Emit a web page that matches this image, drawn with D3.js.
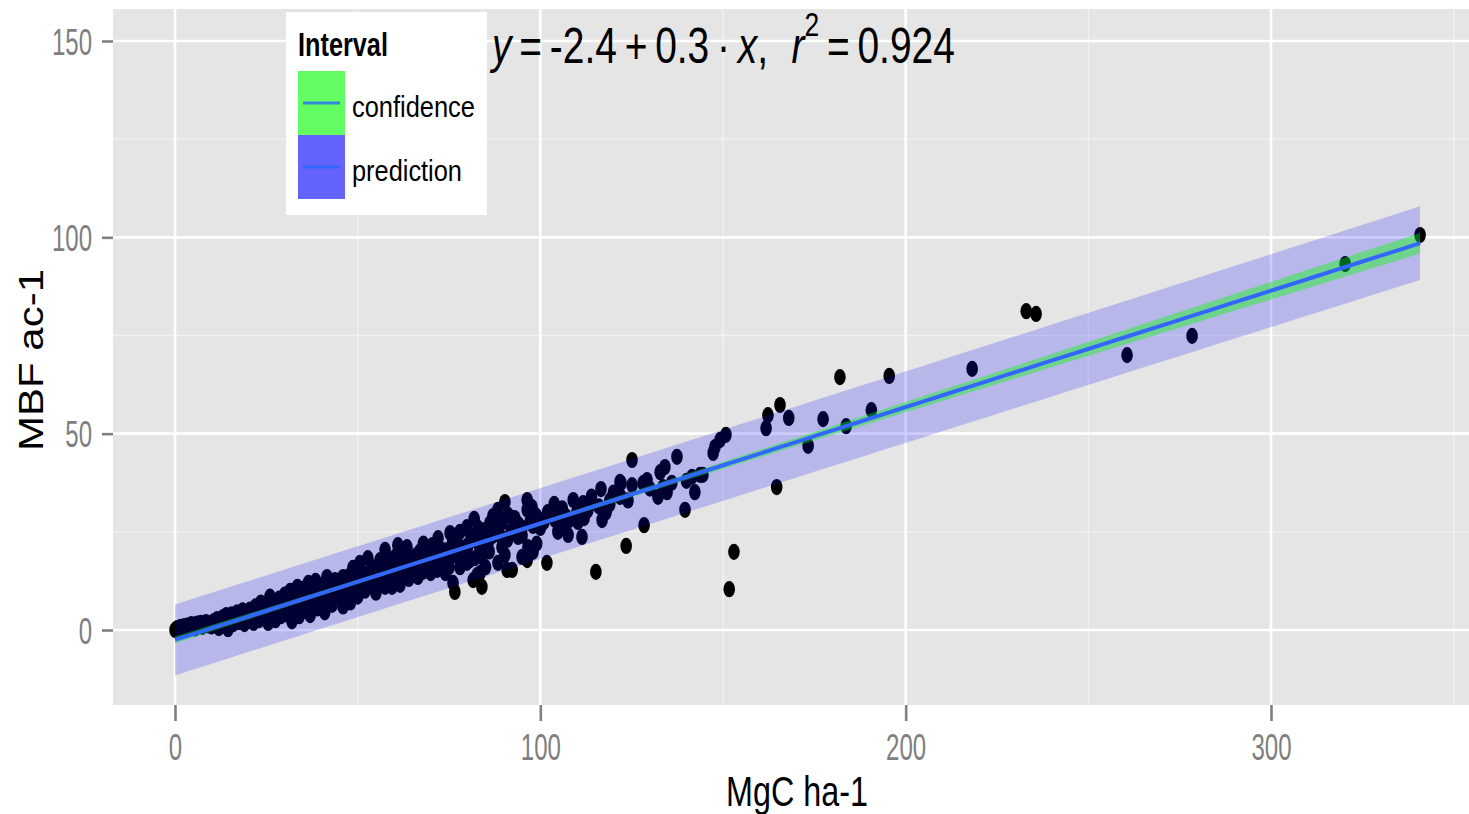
<!DOCTYPE html>
<html>
<head>
<meta charset="utf-8">
<script src="https://cdn.jsdelivr.net/npm/d3@7"></script>
<style>
  html, body { margin: 0; padding: 0; background: #ffffff; }
  svg { display: block; font-family: "Liberation Sans", Arial, Helvetica, sans-serif; }
</style>
</head>
<body>
<div id="chart"></div>
<script>
/** data: MgC ha-1 (x) and MBF ac-1 (y) */
var mgc = [
  0, 0.3, 0.6, 1, 1.5, 2, 2.5, 3, 3.5, 4, 4.5, 5, 5.5, 6, 6.5, 7, 7.5, 8, 8.5, 9, 9.5, 10,
  10.5, 11, 11.5, 12, 12.5, 13, 13.5, 14, 14.5, 15, 15.5, 16, 16.5, 17, 17.5, 18, 18.5, 19, 19.5, 20,
  20.5, 21, 21.5, 22, 22.5, 23, 23.5, 24, 24.5, 25, 25.5, 26, 26.5, 27, 27.5, 28, 28.5, 29, 29.5, 30,
  30.5, 31, 31.5, 32, 32.5, 33, 33.5, 34, 34.5, 35, 35.5, 36, 36.5, 37, 37.5, 38, 38.5, 39, 39.5, 40, 40.5, 41, 41.5, 42,
  43.8, 41.6, 46, 47.9, 48.7, 51.5, 50.6, 52.8, 53.9, 49.3, 47.1, 45.2, 43.3, 41.6, 50.6, 45.7, 43, 48, 50, 52, 54, 46, 44, 47, 49, 53, 55, 55, 51,
  57.5, 58, 58.9, 56.1, 60.2, 59.4, 61, 63.5, 61.6, 64.3, 62.4, 60.2, 63.8, 62.1, 61.6, 57.5, 66.5, 67.9, 71.7, 73.4, 67.1, 69, 71.2, 73.1, 70.4, 72, 56, 58, 65, 66, 68, 69, 70, 74, 75, 64,
  81.9, 79.9, 78, 77.2, 75.3, 74.7, 77.5, 78.8, 79.9, 82.1, 82.7, 76.1, 76.6, 81.6, 83.5, 84, 82.9, 80.8, 86.2, 84.9, 90.3, 88.4, 91.2, 92.5, 89.8, 88.1, 93.9, 96.6, 98, 95, 96.4, 89.5, 90.3, 88.4, 90.9, 92.3, 96.4, 97.7, 98.6, 97.2, 96.4, 85, 86, 87, 84, 93, 94, 95, 91, 87, 85, 78, 80, 76, 83,
  103.8, 105.4, 105.9, 104.8, 107.6, 101.8, 109, 111.7, 110.9, 110.3, 111.4, 116.6, 121.8, 121.8, 117.7, 116.9, 115.2, 123.5, 125.1, 122.1, 125.1, 100, 102, 99, 106, 108, 113, 114, 119, 120,
  128.4, 129.2, 128.1, 134.1, 132.8, 133.6, 134.7, 132.2, 137.4, 141.5, 143.7, 142.3, 139.6, 147.3, 147.8, 149.2, 150.8, 153, 151.7, 144.5,
  161.8, 162.3, 164.7, 165.6, 168, 173.3, 177.4, 182, 183.7, 190.6, 195.5, 218.2, 233, 235.7, 260.6, 278.4, 320.3, 340.8,
  45, 50, 53, 57, 60, 63, 66, 70, 72, 75, 78, 80, 83, 86, 89, 92, 95, 98, 101, 104, 107, 110, 113, 116, 119, 122,
  58, 62, 67, 71, 76, 81, 87, 93, 99, 105, 112, 118, 124, 130, 136, 140, 44, 48, 52, 56
];
var mbf = [
  0, 0.2, 0.5, 0.3, 0.8, 0.5, 1, 0.6, 1.2, 0.8, 1.5, 1, 0.4, 1.6, 1, 1.8, 0.8, 1.4, 2, 1.2, 1.7, 0.9,
  2.2, 1.4, 2.8, 0.5, 2, 3.2, 1.2, 3.8, 0.2, 2.5, 4, 1.5, 3, 4.5, 2, 3.5, 5, 1.5, 4, 2.8,
  5.2, 3.5, 1.8, 6, 4.5, 2.5, 7, 5, 3, 6.5, 1.8, 8.5, 4.5, 7, 2.5, 5.5, 8, 3.5, 6.5, 9,
  4, 7.5, 10, 2.2, 5.5, 9, 11, 3.5, 7, 10.5, 5, 8.5, 12, 3.8, 6.5, 10, 12.5, 5.5, 8.5, 11.5, 7, 4.5, 12.8, 9.5,
  12.7, 13.5, 13.5, 14, 15.8, 14.5, 17.1, 18.3, 16, 12.7, 11.5, 10.2, 8.4, 7.1, 12, 8.1, 6.4, 7, 8.5, 10, 11, 6, 9.5, 9, 10.5, 13, 14.5, 9.5, 11,
  20.4, 17.8, 15.8, 17.8, 12.2, 11, 21.6, 21.1, 20.4, 18.6, 17.3, 18.6, 15.3, 14.8, 11.5, 11, 13.5, 14.8, 15.3, 17.1, 17.8, 20.4, 18.6, 20.4, 21.6, 23.4, 13, 14, 16.5, 19, 22, 16, 14.5, 14.5, 16, 13,
  28.3, 26.2, 25, 22.4, 24.7, 20.4, 18.6, 20.4, 17.1, 18.3, 14, 12, 9.7, 12.7, 14.5, 11, 23.7, 17.8, 27.2, 25.5, 32.6, 30.6, 29.3, 28.5, 27.5, 26.2, 23.7, 21.1, 19.9, 18.6, 17.8, 21.1, 19.1, 17.1, 15.3, 15.3, 33.1, 31.3, 29.3, 27.5, 30.6, 22, 20, 24, 18.5, 25.5, 27, 24, 23, 29, 16, 16, 21, 19, 26,
  32.1, 29.3, 26.7, 25, 24.2, 17.1, 33.1, 32.3, 29.3, 27.5, 23.7, 35.9, 37.7, 33.9, 29.8, 28, 14.8, 21.4, 43.3, 37.4, 36.9, 26, 30, 22, 31, 28, 31, 34, 32, 35,
  26.7, 38.2, 37.4, 41.5, 40.2, 36.4, 35.1, 33.9, 44.1, 39, 39.5, 35.1, 30.6, 45.1, 46.6, 48.4, 49.7, 19.9, 10.4, 39.5,
  51.4, 54.7, 36.4, 57.3, 54, 46.9, 53.7, 64.4, 51.9, 56, 64.7, 66.5, 81.2, 80.5, 70, 74.9, 93.2, 100.6,
  11.5, 12.6, 14, 15, 15.5, 16.8, 17, 18.5, 19, 20, 21, 21.5, 22, 23, 24, 25, 26, 26.5, 27.5, 28, 29, 30, 30.5, 31.5, 33, 34,
  18, 19.5, 20, 17, 22.5, 24, 26, 28.5, 29, 27, 28.5, 30, 33, 36, 37.5, 38, 10.5, 12, 13, 14.5
];

var xMajor = [0, 100, 200, 300];
var xMinor = [50, 150, 250, 350];
var yMajor = [0, 50, 100, 150];
var yMinor = [25, 75, 125];
var legendLabels = ["confidence", "prediction"];

var W = 1469, H = 814;
var panel = { left: 113, right: 1469, top: 9, bottom: 705 };

var svg = d3.select("#chart").append("svg")
    .attr("width", W).attr("height", H);

var x = d3.scaleLinear().domain([0, 300]).range([175, 1271]);
var y = d3.scaleLinear().domain([0, 150]).range([630, 41]);

// squeeze a text horizontally so it spans targetW, anchored at ax
function squeeze(sel, ax, targetW) {
    var w = sel.node().getComputedTextLength();
    sel.attr("transform", "translate(" + ax + ",0) scale(" + (targetW / w) + ",1) translate(" + (-ax) + ",0)");
}

/** panel + grid */
svg.append("rect")
    .attr("x", panel.left).attr("y", panel.top)
    .attr("width", panel.right - panel.left).attr("height", panel.bottom - panel.top)
    .attr("fill", "#e5e5e5");

var grid = svg.append("g");
grid.selectAll(".xmin").data(xMinor).enter().append("line")
    .attr("x1", d => x(d)).attr("x2", d => x(d))
    .attr("y1", panel.top).attr("y2", panel.bottom)
    .attr("stroke", "#f2f2f2").attr("stroke-width", 1.3);
grid.selectAll(".ymin").data(yMinor).enter().append("line")
    .attr("y1", d => y(d)).attr("y2", d => y(d))
    .attr("x1", panel.left).attr("x2", panel.right)
    .attr("stroke", "#f2f2f2").attr("stroke-width", 1.3);
grid.selectAll(".xmaj").data(xMajor).enter().append("line")
    .attr("x1", d => x(d)).attr("x2", d => x(d))
    .attr("y1", panel.top).attr("y2", panel.bottom)
    .attr("stroke", "#ffffff").attr("stroke-width", 2.6);
grid.selectAll(".ymaj").data(yMajor).enter().append("line")
    .attr("y1", d => y(d)).attr("y2", d => y(d))
    .attr("x1", panel.left).attr("x2", panel.right)
    .attr("stroke", "#ffffff").attr("stroke-width", 2.6);

/** points */
var pts = mgc.map((d, i) => [d, mbf[i]]);
svg.append("g").selectAll("ellipse").data(pts).enter().append("ellipse")
    .attr("cx", d => x(d[0])).attr("cy", d => y(d[1]))
    .attr("rx", 5.8).attr("ry", 8.1)
    .attr("fill", "#000000");

/** linear fit with confidence and prediction intervals */
var n = pts.length;
var xbar = d3.mean(mgc), ybar = d3.mean(mbf);
var sxx = d3.sum(mgc, d => (d - xbar) * (d - xbar));
var sxy = d3.sum(pts, d => (d[0] - xbar) * (d[1] - ybar));
var b1 = sxy / sxx, b0 = ybar - b1 * xbar;
var sse = d3.sum(pts, d => Math.pow(d[1] - (b0 + b1 * d[0]), 2));
var s = Math.sqrt(sse / (n - 2));
var tq = 1.968;
var xs = d3.range(0, 61).map(i => d3.min(mgc) + (d3.max(mgc) - d3.min(mgc)) * i / 60);
var fit = xs.map(function (xv) {
    var yh = b0 + b1 * xv;
    var se = s * Math.sqrt(1 / n + (xv - xbar) * (xv - xbar) / sxx);
    var sp = s * Math.sqrt(1 + 1 / n + (xv - xbar) * (xv - xbar) / sxx);
    return { x: xv, y: yh, clo: yh - tq * se, chi: yh + tq * se, plo: yh - tq * sp, phi: yh + tq * sp };
});

var area = function (lo, hi) {
    return d3.area().x(d => x(d.x)).y0(d => y(d[lo])).y1(d => y(d[hi]));
};
svg.append("path").datum(fit)
    .attr("d", area("plo", "phi"))
    .attr("fill", "#0000ff").attr("fill-opacity", 0.2);
svg.append("path").datum(fit)
    .attr("d", area("clo", "chi"))
    .attr("fill", "#00ff00").attr("fill-opacity", 0.4);
svg.append("path").datum(fit)
    .attr("d", d3.line().x(d => x(d.x)).y(d => y(d.y)))
    .attr("fill", "none").attr("stroke", "#3366ff").attr("stroke-width", 4);

/** axes */
var tickScale = 0.65;
var gy = svg.append("g").attr("transform", "translate(" + panel.left + ",0)")
    .call(d3.axisLeft(y).tickValues(yMajor).tickSize(11).tickFormat(d3.format("d")));
gy.select(".domain").remove();
gy.selectAll(".tick line").attr("stroke", "#7f7f7f").attr("stroke-width", 2.6);
gy.selectAll(".tick text")
    .attr("x", -21 / tickScale).attr("dy", "0.36em")
    .attr("transform", "scale(" + tickScale + ",1)")
    .attr("fill", "#7f7f7f").style("font-size", "37px");

var gx = svg.append("g").attr("transform", "translate(0," + panel.bottom + ")")
    .call(d3.axisBottom(x).tickValues(xMajor).tickSize(16).tickFormat(d3.format("d")));
gx.select(".domain").remove();
gx.selectAll(".tick line").attr("stroke", "#7f7f7f").attr("stroke-width", 2.6);
gx.selectAll(".tick text")
    .attr("y", 29).attr("dy", "0.71em")
    .attr("transform", "scale(" + tickScale + ",1)")
    .attr("fill", "#7f7f7f").style("font-size", "37px");

// axis titles
var xt = svg.append("text")
    .attr("x", 797).attr("y", 806)
    .attr("text-anchor", "middle")
    .style("font-size", "43px").attr("fill", "#000")
    .text("MgC ha-1");
squeeze(xt, 797, 142);

svg.append("g").attr("transform", "translate(43,360) scale(0.83,1) rotate(-90)")
    .append("text")
    .attr("text-anchor", "middle")
    .style("font-size", "42px").attr("fill", "#000")
    .text("MBF ac-1");

/** equation label */
var thin = "\u2009";
var eq = svg.append("text").attr("x", 492).attr("y", 63)
    .style("font-size", "50px").attr("fill", "#000");
eq.append("tspan").style("font-style", "italic").text("y");
eq.append("tspan").text(thin + "=" + thin + "-2.4" + thin + "+" + thin + "0.3" + thin + "\u00b7" + thin);
eq.append("tspan").style("font-style", "italic").text("x");
eq.append("tspan").text("," + thin + thin + thin);
eq.append("tspan").style("font-style", "italic").text("r");
eq.append("tspan").attr("dy", -27).style("font-size", "34px").text("2");
eq.append("tspan").attr("dy", 27).text(thin + "=" + thin + "0.924");
squeeze(eq, 492, 463);

/** legend */
var lg = svg.append("g");
lg.append("rect").attr("x", 286).attr("y", 12).attr("width", 201).attr("height", 203)
    .attr("fill", "#ffffff");
var lt = lg.append("text").attr("x", 298).attr("y", 56)
    .style("font-size", "34px").style("font-weight", "bold").attr("fill", "#000")
    .text("Interval");
squeeze(lt, 298, 90);

var keyFill = ["#63fd63", "#6464fd"];
var keyLine = ["#3388dd", "#3366ff"];
var keyTop = [71, 135];
var keyBase = [117, 181];
var keyW = [123, 110];
legendLabels.forEach(function (lab, i) {
    lg.append("rect").attr("x", 298).attr("y", keyTop[i]).attr("width", 47).attr("height", 64)
        .attr("fill", keyFill[i]);
    lg.append("line").attr("x1", 303).attr("x2", 340)
        .attr("y1", keyTop[i] + 32).attr("y2", keyTop[i] + 32)
        .attr("stroke", keyLine[i]).attr("stroke-width", 3.2);
    var t = lg.append("text").attr("x", 352).attr("y", keyBase[i])
        .style("font-size", "29px").attr("fill", "#000").text(lab);
    squeeze(t, 352, keyW[i]);
});
</script>
</body>
</html>
